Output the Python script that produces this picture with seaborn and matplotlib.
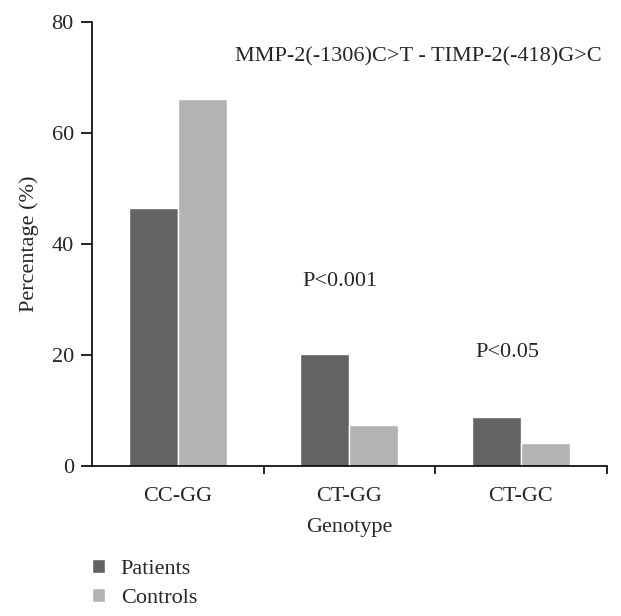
import pandas as pd
import matplotlib.pyplot as plt
import seaborn as sns

# valores
genotipos = ['CC-GG', 'CT-GG', 'CT-GC']
pacientes = [46.5, 20.2, 8.8]
controles = [66.1, 7.4, 4.1]
grupos = ['Patients', 'Controls']
cores = ['#636363', '#b3b3b3']

df = pd.DataFrame({
    'Genotype': genotipos * 2,
    'Percentage': pacientes + controles,
    'Grupo': [grupos[0]] * 3 + [grupos[1]] * 3,
})

sns.set_style('white')
plt.rcParams['font.family'] = ['Liberation Serif', 'DejaVu Serif']

fig = plt.figure(figsize=(6.21, 6.16), dpi=100)
ax = fig.add_axes([0.148, 0.2435, 0.829, 0.7205])

sns.barplot(data=df, x='Genotype', y='Percentage', hue='Grupo',
            palette=cores, width=0.57, saturation=1, ax=ax, legend=True)

ax.set_xlim(-0.5, 2.5)
ax.set_ylim(0, 80)
ax.set_yticks([0, 20, 40, 60, 80])
sns.despine(ax=ax)
for s in ['left', 'bottom']:
    ax.spines[s].set_color('black')
    ax.spines[s].set_linewidth(1.2)

ax.tick_params(axis='y', direction='out', length=8, width=1.2, labelsize=16, color='black', left=True, pad=5)
ax.tick_params(axis='x', which='major', length=0, labelsize=16, pad=15)
ax.set_xticks([0.5, 1.5, 2.5], minor=True)
ax.tick_params(axis='x', which='minor', direction='out', length=6, width=1.2, color='black', bottom=True)

ax.set_xlabel('Genotype', fontsize=16, labelpad=9)
ax.set_ylabel('Percentage (%)', fontsize=16, labelpad=9)

ax.text(1.40, 73.7, 'MMP-2(-1306)C>T - TIMP-2(-418)G>C', ha='center', va='center', fontsize=16)
ax.text(0.945, 33.2, 'P<0.001', ha='center', va='center', fontsize=16)
ax.text(1.92, 20.4, 'P<0.05', ha='center', va='center', fontsize=16)

handles, labels = ax.get_legend_handles_labels()
ax.get_legend().remove()
fig.legend(handles, labels, loc='upper left', bbox_to_anchor=(0.148, 0.092),
           frameon=False, fontsize=16, handlelength=0.6, handleheight=0.6,
           handletextpad=0.7, labelspacing=0.38, borderaxespad=0, borderpad=0)

fig.savefig('out.png', dpi=100)
plt.close()
